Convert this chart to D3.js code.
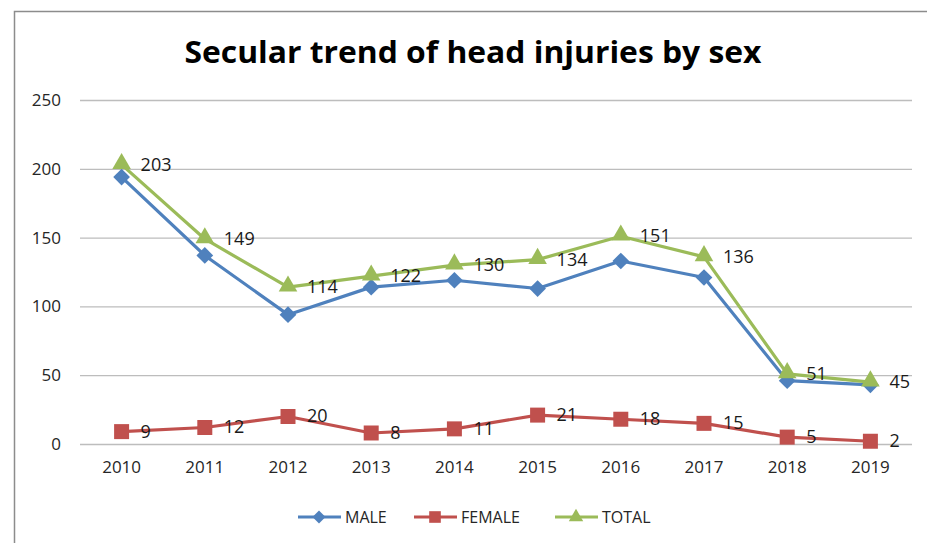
<!DOCTYPE html>
<html>
<head>
<meta charset="utf-8">
<script src="https://cdn.jsdelivr.net/npm/d3@7"></script>
<style>
  body { margin: 0; background: #fff; }
  svg { display: block; }
</style>
</head>
<body>
<svg id="chart" width="927" height="543"></svg>
<script>
// data
const years = ["2010", "2011", "2012", "2013", "2014", "2015", "2016", "2017", "2018", "2019"];
const male = [194, 137, 94, 114, 119, 113, 133, 121, 46, 43];
const female = [9, 12, 20, 8, 11, 21, 18, 15, 5, 2];
const total = [203, 149, 114, 122, 130, 134, 151, 136, 51, 45];
const yTicks = [0, 50, 100, 150, 200, 250];

const svg = d3.select("#chart");
const width = 927, height = 543;
const margin = {top: 100, right: 15, bottom: 99, left: 80};
const font = "'Open Sans', sans-serif";

// frame
svg.append("rect")
    .attr("x", 14.5).attr("y", 11.5)
    .attr("width", width + 20).attr("height", height + 20)
    .attr("fill", "none")
    .attr("stroke", "#8c8c8c")
    .attr("stroke-width", 1.5);

svg.append("text")
    .attr("x", 473)
    .attr("y", 63)
    .attr("text-anchor", "middle")
    .attr("font-family", font)
    .attr("font-weight", "bold")
    .attr("font-size", "31px")
    .attr("fill", "#000")
    .attr("textLength", 577)
    .attr("lengthAdjust", "spacingAndGlyphs")
    .text("Secular trend of head injuries by sex");

const x = d3.scaleBand()
    .domain(years)
    .range([margin.left, width - margin.right]);

const y = d3.scaleLinear()
    .domain([0, 250])
    .range([height - margin.bottom, margin.top]);

// gridlines
svg.append("g")
    .attr("transform", `translate(${margin.left},0)`)
    .call(d3.axisLeft(y).tickValues(yTicks).tickSize(-(width - margin.left - margin.right)).tickFormat(""))
    .call(g => g.select(".domain").remove())
    .call(g => g.selectAll("line").attr("stroke", "#bdbdbd").attr("stroke-width", 1.3));

// y labels
svg.append("g")
    .attr("transform", `translate(${margin.left - 19},0)`)
    .call(d3.axisLeft(y).tickValues(yTicks).tickSize(0).tickPadding(0))
    .call(g => g.select(".domain").remove())
    .call(g => g.selectAll("text")
        .attr("font-family", font)
        .attr("font-size", "17px")
        .attr("fill", "#262626"));

// x labels
svg.append("g")
    .attr("transform", `translate(0,${height - margin.bottom})`)
    .call(d3.axisBottom(x).tickSize(0).tickPadding(17))
    .call(g => g.select(".domain").remove())
    .call(g => g.selectAll("text")
        .attr("font-family", font)
        .attr("font-size", "17px")
        .attr("fill", "#262626"));

const cx = d => x(d) + x.bandwidth() / 2;

// diamond = square turned 45 degrees, like the spreadsheet marker
const series = [
    {name: "MALE", values: male, color: "#4f81bd", symbol: d3.symbolSquare, size: 140, rot: 45, dy: 0, labels: false},
    {name: "FEMALE", values: female, color: "#c0504d", symbol: d3.symbolSquare, size: 225, rot: 0, dy: 0, labels: true},
    {name: "TOTAL", values: total, color: "#9bbb59", symbol: d3.symbolTriangle, size: 150, rot: 0, dy: -1, labels: true}
];

const line = d3.line()
    .x(d => cx(d.year))
    .y(d => y(d.value));

series.forEach(s => {
    const pts = years.map((yr, i) => ({year: yr, value: s.values[i]}));
    svg.append("path")
        .attr("d", line(pts))
        .attr("fill", "none")
        .attr("stroke", s.color)
        .attr("stroke-width", 3.2)
        .attr("stroke-linejoin", "round");

    svg.selectAll(null)
        .data(pts)
        .enter()
        .append("path")
        .attr("d", d3.symbol().type(s.symbol).size(s.size))
        .attr("transform", d => `translate(${cx(d.year)},${y(d.value) + s.dy}) rotate(${s.rot})`)
        .attr("fill", s.color);

    if (s.labels) {
        svg.selectAll(null)
            .data(pts)
            .enter()
            .append("text")
            .attr("x", d => cx(d.year) + 19)
            .attr("y", d => y(d.value) + 6)
            .attr("font-family", font)
            .attr("font-size", "18px")
            .attr("fill", "#1a1a1a")
            .text(d => d.value);
    }
});

// legend
const legendX = [298, 414, 555];
const legend = svg.append("g").attr("transform", "translate(0,517)");
series.forEach((s, i) => {
    const g = legend.append("g").attr("transform", `translate(${legendX[i]},0)`);
    g.append("line")
        .attr("x1", 0).attr("x2", 43)
        .attr("stroke", s.color)
        .attr("stroke-width", 3.2);
    g.append("path")
        .attr("d", d3.symbol().type(s.symbol).size(s.size * 0.6))
        .attr("transform", `translate(21,0) rotate(${s.rot})`)
        .attr("fill", s.color);
    g.append("text")
        .attr("x", 47)
        .attr("y", 6)
        .attr("font-family", font)
        .attr("font-size", "16px")
        .attr("fill", "#262626")
        .text(s.name);
});
</script>
</body>
</html>
